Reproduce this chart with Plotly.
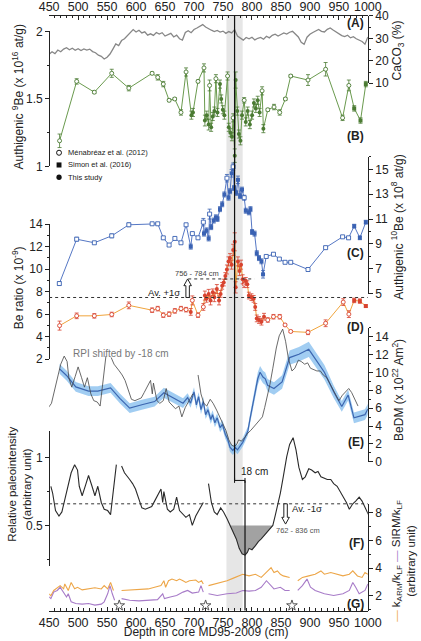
import plotly.graph_objects as go

W, H = 421, 641
FONT = "Liberation Sans, Arial, Helvetica, sans-serif"
INK = "#222222"

def fx(px):
    return px / W

def fy(py):
    return 1 - py / H

# ---------------------------------------------------------------- data
depth_ticks = list(range(450, 1001, 50))
X_TITLE = "Depth in core MD95-2009 (cm)"

caco3_depth = list(range(450, 1001, 5))
caco3 = [22.9, 24.0, 23.2, 24.8, 24.0, 25.2, 25.8, 24.9, 25.6, 24.7,
         25.4, 24.6, 25.3, 24.8, 25.2, 24.1, 23.6, 22.5, 22.0, 20.8,
         21.6, 23.0, 25.2, 27.5, 26.8, 29.0, 29.8, 31.2, 32.6, 33.9,
         32.8, 33.6, 32.4, 32.9, 31.4, 32.0, 31.3, 32.6, 31.9, 32.5,
         31.0, 31.6, 32.2, 30.6, 31.4, 29.8, 29.2, 32.6, 33.4, 32.5,
         33.9, 34.6, 35.4, 36.1, 35.0, 34.2, 33.6, 33.0, 33.5, 32.8,
         33.2, 32.2, 33.0, 32.4, 33.8, 31.0, 30.2, 29.2, 30.4, 29.8,
         30.5, 29.3, 30.0, 30.4, 29.6, 30.9, 30.2, 31.3, 31.8, 31.0,
         31.7, 32.4, 31.9, 32.7, 33.1, 32.0, 30.6, 28.2, 27.3, 30.5,
         31.8, 32.6, 33.2, 33.9, 33.1, 32.8, 34.0, 34.6, 33.7, 32.9,
         31.8, 31.2, 30.8, 31.4, 30.2, 30.7, 29.8, 29.2, 28.6, 27.4, 30.6]

be9_depth = [468, 497.5, 528, 558, 587.5, 627.7, 637.4, 647, 657, 666.7,
             677.5, 686.3, 695.5, 698.2, 706.9, 717.2, 718.8, 722, 725.3, 726.9,
             729.6, 732.4, 735.1, 737.8, 740.5, 744.8, 747, 749.7, 752.4, 757.9,
             760, 762.7, 765.4, 767.6, 770.3, 771.9, 774.7, 777.4, 780.1, 782.8,
             786.6, 789.3, 792.6, 796.4, 800.2, 803.4, 806.7, 809.9, 813.2, 817.5,
             819.7, 827.3, 838.1, 847.9, 857.7, 866.9, 896.7, 927.1, 956.4, 967.2,
             976.4, 987.3, 996.5]
be9 = [1.19, 1.63, 1.55, 1.69, 1.58, 1.69, 1.66, 1.61, 1.49, 1.50,
       1.40, 1.70, 1.38, 1.40, 1.63, 1.73, 1.34, 1.38, 1.31, 1.60,
       1.29, 1.37, 1.41, 1.65, 1.40, 1.61, 1.50, 1.42, 1.38, 1.67,
       1.29, 1.25, 1.22, 1.36, 1.08, 1.64, 1.41, 1.24, 1.19, 1.38,
       1.49, 1.33, 1.41, 1.31, 1.38, 1.47, 1.43, 1.49, 1.40, 1.56,
       1.28, 1.42, 1.44, 1.40, 1.50, 1.67, 1.64, 1.72, 1.36, 1.60,
       1.43, 1.34, 1.61]
be9_err = [0.05, 0.02, 0.01, 0.03, 0.02, 0.01, 0.02, 0.02, 0.01, 0.01,
           0.02, 0.03, 0.03, 0.03, 0.01, 0.03, 0.04, 0.03, 0.04, 0.04,
           0.03, 0.03, 0.03, 0.03, 0.03, 0.03, 0.03, 0.03, 0.03, 0.03,
           0.03, 0.03, 0.03, 0.03, 0.05, 0.06, 0.03, 0.03, 0.03, 0.03,
           0.02, 0.03, 0.03, 0.03, 0.03, 0.03, 0.03, 0.03, 0.03, 0.03,
           0.03, 0.01, 0.02, 0.02, 0.01, 0.01, 0.04, 0.05, 0.02, 0.04,
           0.02, 0.02, 0.02]
be9_src = list("MMMMMMMMMMMM" "TT" "MM" "TTT" "M" "TTT" "M" "TTTTT" "M" "TTT"
               "M" "TTTTTT" "M" "TTTTTTTT" "M" "T" "MMMMMMMMM" "SSS")

be10_depth = [467.6, 497.5, 528, 558, 587.5, 627.7, 637.4, 647, 657, 667,
              677.5, 686.3, 694.4, 697.1, 706.9, 716.1, 717.2, 721.5, 725.3, 726.9,
              729.6, 734, 737.8, 740.5, 744.8, 748.6, 752.4, 756.8, 759.5, 762.2,
              764.9, 767.6, 769.2, 773, 775.8, 779.5, 782.8, 786.6, 789.3, 794.7,
              797.4, 800.2, 804.5, 808.3, 812.1, 816.4, 819.1, 824.6, 837.1, 847.3,
              857.1, 866.9, 896.7, 927.1, 956.4, 966.7, 976.4, 986.2, 996.5]
be10 = [5.81, 9.38, 9.09, 9.65, 10.54, 10.62, 10.62, 9.49, 8.91, 9.44,
        9.09, 10.54, 8.78, 9.83, 9.49, 10.75, 9.83, 10.09, 9.44, 11.40,
        10.35, 10.88, 11.14, 11.01, 11.80, 12.19, 12.98, 14.29, 12.72, 13.24,
        14.68, 15.21, 13.50, 13.11, 14.16, 12.85, 13.37, 12.72, 11.67, 11.54,
        11.80, 9.96, 9.83, 8.25, 7.86, 7.60, 6.55, 7.99, 8.17, 7.78,
        7.52, 7.52, 6.94, 8.70, 9.57, 9.49, 10.43, 9.49, 10.75]
be10_err = [0.15, 0.15, 0.1, 0.15, 0.15, 0.1, 0.1, 0.1, 0.1, 0.1,
            0.1, 0.1, 0.2, 0.1, 0.1, 0.3, 0.2, 0.2, 0.2, 0.4,
            0.2, 0.2, 0.2, 0.2, 0.2, 0.2, 0.2, 0.3, 0.2, 0.2,
            0.3, 0.3, 0.2, 0.2, 0.3, 0.2, 0.2, 0.2, 0.2, 0.2,
            0.2, 0.2, 0.2, 0.2, 0.2, 0.2, 0.3, 0.1, 0.1, 0.1,
            0.1, 0.1, 0.1, 0.1, 0.1, 0.1, 0.15, 0.15, 0.15]
be10_src = list("MMMMMMMMMMMM" "T" "MMM" "TTT" "M" "TTTTTTT" "M" "TTT" "M"
                "TTTTT" "M" "TTTTTTTTT" "MMMMMMMMM" "SSS")

ratio_depth = [468, 497.5, 528, 558, 587.5, 627.7, 637.4, 647, 657, 667,
               677.5, 686.3, 694.4, 697.1, 706.9, 716.1, 718.8, 721.5, 725.3, 728.5,
               732.4, 735.1, 739.4, 743.2, 745.9, 748.6, 751.3, 754.1, 756.8, 759.5,
               762.2, 764.9, 767.6, 770.3, 771.9, 775.8, 778.5, 781.2, 783.9, 786.6,
               789.3, 792, 794.7, 799.1, 802.9, 805.6, 808.3, 812.1, 816.4, 820.8,
               827.3, 837.1, 847.9, 857.1, 866.9, 896.7, 927.1, 957.5, 967.2, 976.4,
               986.2, 996.5]
ratio = [4.98, 5.85, 5.85, 5.97, 6.78, 6.35, 6.49, 5.91, 6.00, 6.29,
         6.49, 6.40, 6.20, 7.22, 5.91, 6.64, 7.65, 7.36, 7.80, 7.22,
         7.94, 7.51, 8.23, 7.22, 7.80, 8.52, 8.81, 9.39, 9.97, 10.69,
         10.98, 10.40, 11.71, 12.43, 8.38, 10.69, 9.83, 10.40, 9.10, 8.66,
         8.96, 8.66, 7.65, 7.51, 7.36, 6.64, 5.62, 5.48, 5.33, 5.77,
         5.48, 5.77, 5.77, 5.04, 4.46, 4.38, 5.19, 7.07, 6.00, 7.22,
         7.16, 6.72]
ratio_err = [0.4, 0.25, 0.2, 0.2, 0.3, 0.2, 0.2, 0.2, 0.2, 0.2,
             0.2, 0.2, 0.3, 0.4, 0.2, 0.3, 0.4, 0.3, 0.4, 0.4,
             0.3, 0.4, 0.4, 0.4, 0.3, 0.3, 0.3, 0.3, 0.4, 0.4,
             0.4, 0.4, 0.5, 0.8, 0.5, 0.4, 0.4, 0.4, 0.4, 0.3,
             0.3, 0.3, 0.3, 0.3, 0.3, 0.3, 0.3, 0.3, 0.3, 0.3,
             0.2, 0.2, 0.2, 0.1, 0.1, 0.2, 0.3, 0.3, 0.3, 0.2,
             0.2, 0.1]
ratio_src = list("MMMMMMMMMMMM" "T" "MMM" "TTTTTTTTTTTTTTTTTTTTTTT" "M"
                 "TTTTTTTTTT" "MMMMMMMMM" "SSS")

bedm_depth = [468, 480, 496, 518, 534, 556, 572, 589, 610, 632,
              648, 665, 681, 689, 694, 700, 704, 708, 712, 716,
              720, 724, 729, 732, 736, 740, 745, 749, 754, 758,
              762, 767, 771, 775, 780, 784, 788, 793, 797, 801,
              806, 810, 814, 819, 823, 827, 838, 852, 865, 881,
              898, 925, 941, 955, 966, 976, 995, 1000]
bedm = [10.39, 9.66, 8.38, 7.91, 7.91, 8.27, 7.10, 6.01, 6.38, 6.74,
        7.73, 7.10, 6.56, 7.18, 6.56, 7.83, 6.38, 7.29, 5.83, 6.74,
        5.28, 5.83, 4.74, 5.28, 4.37, 4.92, 3.82, 4.19, 3.09, 2.55,
        1.64, 1.27, 1.64, 1.34, 1.82, 2.18, 2.73, 3.46, 4.92, 6.38,
        8.20, 9.29, 10.02, 9.48, 9.29, 8.56, 8.20, 8.93, 11.66, 12.03,
        12.58, 10.02, 7.83, 6.19, 7.47, 4.92, 5.28, 5.90]
bedm_err = [0.55, 0.55, 0.55, 0.55, 0.55, 0.55, 0.55, 0.55, 0.55, 0.55,
            0.55, 0.55, 0.55, 0.5, 0.5, 0.5, 0.5, 0.5, 0.5, 0.5,
            0.5, 0.5, 0.5, 0.5, 0.5, 0.5, 0.5, 0.5, 0.5, 0.5,
            0.5, 0.5, 0.5, 0.5, 0.5, 0.5, 0.5, 0.5, 0.55, 0.6,
            0.65, 0.7, 0.7, 0.7, 0.7, 0.7, 0.7, 0.75, 0.8, 0.8,
            0.85, 0.8, 0.7, 0.6, 0.6, 0.6, 0.6, 0.6]

rpi_depth = [453, 456, 461, 467, 472, 477, 483, 488, 494, 499,
             502, 507, 513, 518, 524, 529, 534, 540, 545, 551,
             556, 561, 566, 570, 575, 580, 589, 594, 599, 605,
             610, 616, 621, 627, 632, 637, 643, 646, 648, 654,
             659, 665, 670, 675, 681, 686, 692, 697, 703, 708,
             716, 720, 725, 730, 735, 740, 746, 751, 757, 762,
             768, 773, 778, 783, 788, 792, 795, 800, 806, 811,
             816, 822, 827, 832, 836, 840, 844, 849, 854, 860,
             865, 871, 876, 881, 887, 892, 898, 903, 909, 914,
             919, 925, 930, 936, 941, 947, 952, 957, 963, 968,
             974, 979, 985, 990, 995, 1001]
rpi = [0.79, 0.74, 0.61, 0.57, 0.60, 0.69, 0.81, 0.89, 0.95, 0.91,
       0.79, 0.72, 0.80, 0.87, 0.79, 0.72, 0.79, 0.67, 0.62, 0.61,
       0.58, 0.79, 0.95, None, 0.94, 0.89, 0.84, 0.81, 0.77, 0.69,
       0.63, 0.62, 0.63, 0.64, 0.68, 0.72, 0.77, 0.67, 0.75, 0.62,
       0.60, 0.62, 0.71, 0.61, 0.58, 0.56, 0.58, 0.50, 0.57, 0.61,
       0.67, None, 0.81, 0.67, 0.60, 0.58, 0.63, 0.60, 0.55, 0.50,
       0.45, 0.40, 0.33, 0.29, 0.28, 0.30, 0.33, 0.32, 0.35, 0.38,
       0.40, 0.43, 0.46, 0.48, 0.50, 0.57, 0.64, 0.74, 0.86, 1.01,
       1.10, 1.15, 1.06, 0.93, 0.84, 0.86, 0.92, 0.91, 0.89, 0.90,
       0.86, 0.85, 0.84, 0.84, 0.81, 0.79, 0.75, 0.72, 0.67, 0.62,
       0.66, 0.68, 0.71, 0.68, 0.63, 0.58]
RPI_SHIFT = -18

karm_depth = [450, 453, 458, 464, 469, 475, 477, 483, 488, 494,
              499, 507, 518, 529, 540, 545, 551, 556, 561, 568,
              575, 589, 605, 621, 632, 643, 648, 651, 656, 662,
              670, 675, 681, 686, 692, 697, 703, 708, 713, 716,
              720, 725, 735, 746, 757, 768, 778, 784, 795, 806,
              816, 827, 833, 838, 844, 849, 854, 865, 872, 879,
              887, 898, 909, 919, 925, 936, 947, 957, 968, 974,
              982, 990, 995, 1000]
karm = [2.15, 2.00, 2.39, 2.62, 2.74, 2.51, 2.86, 2.39, 2.97, 2.51,
        2.62, 2.43, 2.50, 2.58, 2.50, 2.74, 2.50, 2.97, 2.39, None,
        2.39, 2.43, 2.50, 2.50, 2.62, 2.74, 3.09, 2.62, 3.09, 3.21,
        3.09, 3.21, 3.09, 2.97, 3.09, 3.09, 3.14, 2.97, 3.09, 2.86,
        None, 2.74, 2.86, 2.97, 3.09, 3.28, 3.44, 3.56, 3.44, 3.56,
        3.33, 3.80, 4.03, 3.68, 3.80, 3.56, 3.44, 3.33, None, 3.09,
        3.33, 3.44, 3.56, 3.80, 3.56, 3.68, 3.56, 3.44, 3.56, 3.80,
        3.44, 3.33, 3.68, 3.56]

sirm_depth = [450, 453, 458, 464, 469, 475, 480, 483, 488, 496,
              507, 518, 529, 540, 545, 551, 555, 559, 563, 568,
              575, 589, 605, 621, 637, 646, 649, 659, 670, 681,
              689, 697, 708, 712, 716, 720, 725, 740, 757, 773,
              784, 795, 806, 816, 825, 830, 838, 849, 857, 865,
              872, 879, 887, 895, 901, 909, 925, 941, 957, 968,
              974, 979, 985, 995, 1000]
sirm = [1.92, 1.80, 2.27, 2.39, 2.62, 2.27, 1.92, 2.15, 1.57, 1.45,
        1.40, 1.45, 1.33, 1.40, 1.57, 2.15, 2.74, 2.15, 1.68, None,
        1.80, 1.68, 1.64, 1.68, 1.73, 2.15, 1.80, 1.92, 2.03, 2.27,
        2.39, 2.20, 2.27, 2.74, 2.27, None, 2.15, 2.03, 2.15, 2.20,
        2.39, 2.34, 2.39, 2.62, 3.09, 2.86, 2.50, 2.62, 2.39, 2.39,
        None, 2.39, 2.74, 3.21, 2.62, 2.39, 2.15, 2.03, 2.15, 2.39,
        2.97, 2.62, 2.15, 2.39, 2.86]

star_depth = [571, 720, 869]

BAND = (756, 784)
MARK_A, MARK_B = 770, 788
AV_PLUS, LEVEL_784 = 7.48, 9.13
AV_MINUS, FILL_LEVEL, FILL_LO, FILL_HI = 0.66, 0.50, 762, 836

# ---------------------------------------------------------------- layout geometry
X0_PX, X1_PX = 41.5, 379.5
TOP_PX, BOT_PX = 9, 617
DEPTH_RANGE = [450, 1000]

GRAY = "#878787"
GREEN, GREEN_D = "#6a9a4e", "#4b7b33"
BLUE, BLUE_D = "#5577c4", "#3a62b3"
ORANGE, RED = "#f0a43c", "#d8432f"
DM_LINE, DM_BAND = "#3c66b0", "rgba(130,188,238,0.75)"
K_ORANGE, K_PURPLE = "#eda648", "#a77bc8"


def depth_at(px):
    return DEPTH_RANGE[0] + (px - X0_PX) / (X1_PX - X0_PX) * (DEPTH_RANGE[1] - DEPTH_RANGE[0])


def value_axis(a1, a2, lo, hi, side, dtick, tick0, minor, visible=True):
    (v1, p1), (v2, p2) = a1, a2
    k = (p2 - p1) / (v2 - v1)
    p_lo = p1 + (lo - v1) * k
    p_hi = p1 + (hi - v1) * k
    ax = dict(domain=[fy(p_lo), fy(p_hi)], range=[lo, hi], anchor="free",
              position=fx(X0_PX if side == "left" else X1_PX), side=side,
              showgrid=False, zeroline=False, fixedrange=True)
    if not visible:
        ax["visible"] = False
        return ax
    ax.update(showline=True, linecolor=INK, linewidth=1, ticks="outside",
              ticklen=4, tickwidth=1, tickcolor=INK, dtick=dtick, tick0=tick0,
              tickfont=dict(size=12, color=INK, family=FONT),
              minor=dict(dtick=minor, tick0=tick0, ticks="outside", ticklen=2.5,
                         tickwidth=1, tickcolor=INK, showgrid=False))
    return ax


xcommon = dict(range=DEPTH_RANGE, domain=[fx(X0_PX), fx(X1_PX)], showline=True,
               linecolor=INK, linewidth=1, ticks="inside", ticklen=4, tickwidth=1,
               tickcolor=INK, tickvals=depth_ticks,
               minor=dict(dtick=10, tick0=450, ticks="inside", ticklen=2.5,
                          tickcolor=INK, tickwidth=1, showgrid=False),
               showgrid=False, zeroline=False, fixedrange=True,
               tickfont=dict(size=12.5, color=INK, family=FONT))

layout = dict(
    width=W, height=H, margin=dict(l=0, r=0, t=0, b=0),
    paper_bgcolor="white", plot_bgcolor="rgba(0,0,0,0)", showlegend=False,
    font=dict(family=FONT, size=12, color=INK),
    xaxis=dict(xcommon, anchor="y", side="bottom"),
    xaxis2=dict(xcommon, anchor="y", side="top", overlaying="x", showticklabels=False),
    yaxis=dict(domain=[fy(BOT_PX), fy(TOP_PX)], range=[0, 1], visible=False, fixedrange=True),
    yaxis2=value_axis((40, 9), (10, 78), 10, 40, "right", 10, 0, 5),          # CaCO3
    yaxis3=value_axis((2, 25), (1, 163), 1, 2, "left", 0.5, 0, 0.25),        # 9Be
    yaxis4=value_axis((15, 166), (5, 293), 5, 16, "right", 2, 5, 1),          # 10Be
    yaxis5=value_axis((14, 222), (2, 360), 2, 14, "left", 2, 0, 1),           # Be ratio
    yaxis6=value_axis((14, 337), (0, 465), 0, 15, "right", 2, 0, 1),          # BeDM
    yaxis7=value_axis((1, 350), (0.5, 419), 0.13, 1.22, "left", 1, 0, 1, visible=False),
    yaxis8=value_axis((1, 461), (0.5, 530), 0.2, 1.2, "left", 0.5, 0, 0.25),  # RPI
    yaxis9=value_axis((8, 517), (2, 602), 0.94, 8.63, "right", 2, 0, 1),      # magnetic
    # hidden full-page axis measured in page pixels (for text the page edge crops)
    yaxis10=dict(domain=[0, 1], range=[H, 0], visible=False, anchor="free", position=0,
                 fixedrange=True),
)

fig = go.Figure()

fig.add_trace(go.Scatter(x=[None], y=[None], xaxis="x2", yaxis="y", showlegend=False))
fig.add_trace(go.Scatter(x=[None], y=[None], xaxis="x", yaxis="y", showlegend=False))

# top depth labels and x title, cropped by the page edge as in the original
fig.add_trace(go.Scatter(x=depth_ticks, y=[0.5] * len(depth_ticks), mode="text",
                         text=[str(t) for t in depth_ticks], textposition="middle center",
                         cliponaxis=False, textfont=dict(size=12.5, color=INK, family=FONT),
                         xaxis="x", yaxis="y10", hoverinfo="skip"))
fig.add_trace(go.Scatter(x=[depth_at(208)], y=[640], mode="text", text=[X_TITLE],
                         textposition="middle center", cliponaxis=False,
                         textfont=dict(size=12, color=INK, family=FONT),
                         xaxis="x", yaxis="y10", hoverinfo="skip"))

# (A) CaCO3
fig.add_trace(go.Scatter(x=caco3_depth, y=caco3, mode="lines", yaxis="y2",
                         line=dict(color=GRAY, width=1.3)))


def sub(depths, vals, errs, srcs, key):
    rows = [(d, v, e) for d, v, e, s in zip(depths, vals, errs, srcs) if s == key]
    return [r[0] for r in rows], [r[1] for r in rows], [r[2] for r in rows]


def proxy(depths, vals, errs, srcs, yaxis, line_col, mark_col, open_sym, filled_sym):
    fig.add_trace(go.Scatter(x=depths, y=vals, mode="lines", yaxis=yaxis,
                             line=dict(color=line_col, width=1)))
    styles = {
        "M": dict(symbol=open_sym, size=4, color="white", line=dict(color=mark_col, width=0.9)),
        "S": dict(symbol="square", size=4, color=mark_col, line=dict(color=mark_col, width=0)),
        "T": dict(symbol=filled_sym, size=4, color=mark_col, line=dict(color=mark_col, width=0)),
    }
    for key in ["M", "S", "T"]:
        xs, ys, es = sub(depths, vals, errs, srcs, key)
        fig.add_trace(go.Scatter(
            x=xs, y=ys, mode="markers", yaxis=yaxis, marker=styles[key], cliponaxis=False,
            error_y=dict(type="data", array=es, color=mark_col, thickness=0.8, width=2)))


proxy(be9_depth, be9, be9_err, be9_src, "y3", GREEN, GREEN_D, "circle", "circle")
proxy(be10_depth, be10, be10_err, be10_src, "y4", BLUE, BLUE_D, "square", "square")
proxy(ratio_depth, ratio, ratio_err, ratio_src, "y5", ORANGE, RED, "circle", "circle")

# (E)
fig.add_trace(go.Scatter(x=bedm_depth, y=[v + e for v, e in zip(bedm, bedm_err)],
                         mode="lines", yaxis="y6", line=dict(width=0, color=DM_BAND)))
fig.add_trace(go.Scatter(x=bedm_depth, y=[v - e for v, e in zip(bedm, bedm_err)],
                         mode="lines", yaxis="y6", line=dict(width=0, color=DM_BAND),
                         fill="tonexty", fillcolor=DM_BAND))
fig.add_trace(go.Scatter(x=[d + RPI_SHIFT for d in rpi_depth], y=rpi, mode="lines",
                         yaxis="y7", line=dict(color="#444444", width=0.8)))
fig.add_trace(go.Scatter(x=bedm_depth, y=bedm, mode="lines", yaxis="y6",
                         line=dict(color=DM_LINE, width=1.2)))

# (F)
inner = [(d, v) for d, v in zip(rpi_depth, rpi) if v is not None and FILL_LO < d < FILL_HI]
fill_x = [FILL_LO] + [d for d, _ in inner] + [FILL_HI]
fill_y = [FILL_LEVEL] + [v for _, v in inner] + [FILL_LEVEL]
fig.add_trace(go.Scatter(x=fill_x, y=fill_y, mode="lines", yaxis="y8", fill="toself",
                         fillcolor="#a2a2a2", line=dict(width=0.6, color="#b5b5b5")))
fig.add_trace(go.Scatter(x=rpi_depth, y=rpi, mode="lines", yaxis="y8",
                         line=dict(color="#2a2a2a", width=1.1)))

# (G)
fig.add_trace(go.Scatter(x=karm_depth, y=karm, mode="lines", yaxis="y9",
                         line=dict(color=K_ORANGE, width=1.1)))
fig.add_trace(go.Scatter(x=sirm_depth, y=sirm, mode="lines", yaxis="y9",
                         line=dict(color=K_PURPLE, width=1.1)))
fig.add_trace(go.Scatter(x=star_depth, y=[1.3] * len(star_depth), mode="markers", yaxis="y9",
                         cliponaxis=False,
                         marker=dict(symbol="star-open", size=8, color="#555555",
                                     line=dict(width=1, color="#555555"))))

# ---------------------------------------------------------------- shapes
shapes = []
shapes.append(dict(type="rect", xref="x", yref="y", x0=BAND[0], x1=BAND[1], y0=0, y1=1,
                   fillcolor="#e6e6e6", line=dict(width=0), layer="below"))
BR_PX = 484
shapes.append(dict(type="line", xref="x", yref="paper", x0=MARK_A, x1=MARK_A,
                   y0=fy(BR_PX), y1=fy(TOP_PX), line=dict(color="#111", width=1.2)))
shapes.append(dict(type="line", xref="x", yref="paper", x0=MARK_B, x1=MARK_B,
                   y0=fy(BOT_PX), y1=fy(BR_PX), line=dict(color="#111", width=1.2)))
shapes.append(dict(type="line", xref="x", yref="paper", x0=MARK_A, x1=MARK_B,
                   y0=fy(BR_PX), y1=fy(BR_PX), line=dict(color="#111", width=1)))
for m in (MARK_A, MARK_B):
    shapes.append(dict(type="line", xref="x", yref="paper", x0=m, x1=m,
                       y0=fy(BR_PX + 2.5), y1=fy(BR_PX - 2.5), line=dict(color="#111", width=1)))
shapes.append(dict(type="line", xref="x", yref="y5", x0=450, x1=1000, y0=AV_PLUS, y1=AV_PLUS,
                   line=dict(color="#333", width=1, dash="dot")))
shapes.append(dict(type="line", xref="x", yref="y5", x0=690, x1=804, y0=LEVEL_784, y1=LEVEL_784,
                   line=dict(color="#333", width=1, dash="dot")))
shapes.append(dict(type="line", xref="x", yref="y8", x0=450, x1=1000, y0=AV_MINUS, y1=AV_MINUS,
                   line=dict(color="#333", width=1, dash="dot")))

ax_up = 689
shaft, head = 3.0, 6.5
hb = LEVEL_784 - 0.6
shapes.append(dict(type="path", xref="x", yref="y5",
                   path=(f"M {ax_up - shaft},{AV_PLUS} L {ax_up - shaft},{hb} L {ax_up - head},{hb} "
                         f"L {ax_up},{LEVEL_784} L {ax_up + head},{hb} L {ax_up + shaft},{hb} "
                         f"L {ax_up + shaft},{AV_PLUS} Z"),
                   fillcolor="white", line=dict(color="#222", width=1)))
ax_dn = 858
tip = 0.51
hd = tip + 0.05
shapes.append(dict(type="path", xref="x", yref="y8",
                   path=(f"M {ax_dn - shaft},{AV_MINUS} L {ax_dn - shaft},{hd} L {ax_dn - head},{hd} "
                         f"L {ax_dn},{tip} L {ax_dn + head},{hd} L {ax_dn + shaft},{hd} "
                         f"L {ax_dn + shaft},{AV_MINUS} Z"),
                   fillcolor="white", line=dict(color="#222", width=1)))

LX = 52
shapes.append(dict(type="circle", xref="paper", yref="paper", x0=fx(LX - 2.6), x1=fx(LX + 2.6),
                   y0=fy(149 + 2.6), y1=fy(149 - 2.6), line=dict(color="#111", width=1),
                   fillcolor="white"))
shapes.append(dict(type="rect", xref="paper", yref="paper", x0=fx(LX - 2.6), x1=fx(LX + 2.6),
                   y0=fy(161.5 + 2.6), y1=fy(161.5 - 2.6), line=dict(color="#111", width=0),
                   fillcolor="#111"))
shapes.append(dict(type="circle", xref="paper", yref="paper", x0=fx(LX - 2.8), x1=fx(LX + 2.8),
                   y0=fy(174 + 2.8), y1=fy(174 - 2.8), line=dict(color="#111", width=0),
                   fillcolor="#111"))

# ---------------------------------------------------------------- annotations
ann = []


def A(text, x, y, xref="paper", yref="paper", size=12, color=INK, xanchor="center",
      yanchor="middle", angle=0):
    ann.append(dict(text=text, x=x, y=y, xref=xref, yref=yref, showarrow=False,
                    font=dict(size=size, color=color, family=FONT), xanchor=xanchor,
                    yanchor=yanchor, textangle=angle))


for lab, py in [("A", 16), ("B", 132), ("C", 252), ("D", 327), ("E", 445), ("F", 548), ("G", 610)]:
    A(f"<b>({lab})</b>", fx(377), fy(py), size=12, xanchor="right")

A("Authigenic <sup>9</sup>Be (x 10<sup>16</sup> at/g)", fx(8), fy(92), angle=-90)
A("Be ratio (x 10<sup>-9</sup>)", fx(8), fy(287), angle=-90)
A("Relative paleointensity<br>(arbitrary unit)", fx(10), fy(488), size=11.5, angle=-90)
A("CaCO<sub>3</sub> (%)", fx(412), fy(45), angle=-90)
A("Authigenic <sup>10</sup>Be (x 10<sup>8</sup> at/g)", fx(411), fy(225), angle=-90)
A("BeDM (x 10<sup>22</sup> Am<sup>2</sup>)", fx(412), fy(392), angle=-90)
A(f"<span style='color:{K_ORANGE}'>—</span> k<sub>ARM</sub>/k<sub>LF</sub> "
  f"<span style='color:{K_PURPLE}'>—</span> SIRM/k<sub>LF</sub><br>(arbitrary unit)",
  fx(417), fy(566), size=11.5, angle=-90)

A("Ménabréaz et al. (2012)", fx(59), fy(149), size=7.5, xanchor="left")
A("Simon et al. (2016)", fx(59), fy(161.5), size=7.5, xanchor="left")
A("This study", fx(59), fy(174), size=7.5, xanchor="left")

A("RPI shifted by -18 cm", fx(65), fy(354), size=10, color="#777777", xanchor="left")
A("Av. +1σ", 648, 7.95, xref="x", yref="y5", size=9.5)
A("756 - 784 cm", 705, 9.6, xref="x", yref="y5", size=7.5, color="#444")
A("18 cm", 778, fy(475), xref="x", size=10, xanchor="left")
A("Av. -1σ", 866, 0.625, xref="x", yref="y8", size=9.5, xanchor="left")
A("762 - 836 cm", 838, 0.465, xref="x", yref="y8", size=7.5, color="#555", xanchor="left")

layout["shapes"] = shapes
layout["annotations"] = ann
fig.update_layout(**layout)

fig.write_html("out.html", config={"displayModeBar": False})
